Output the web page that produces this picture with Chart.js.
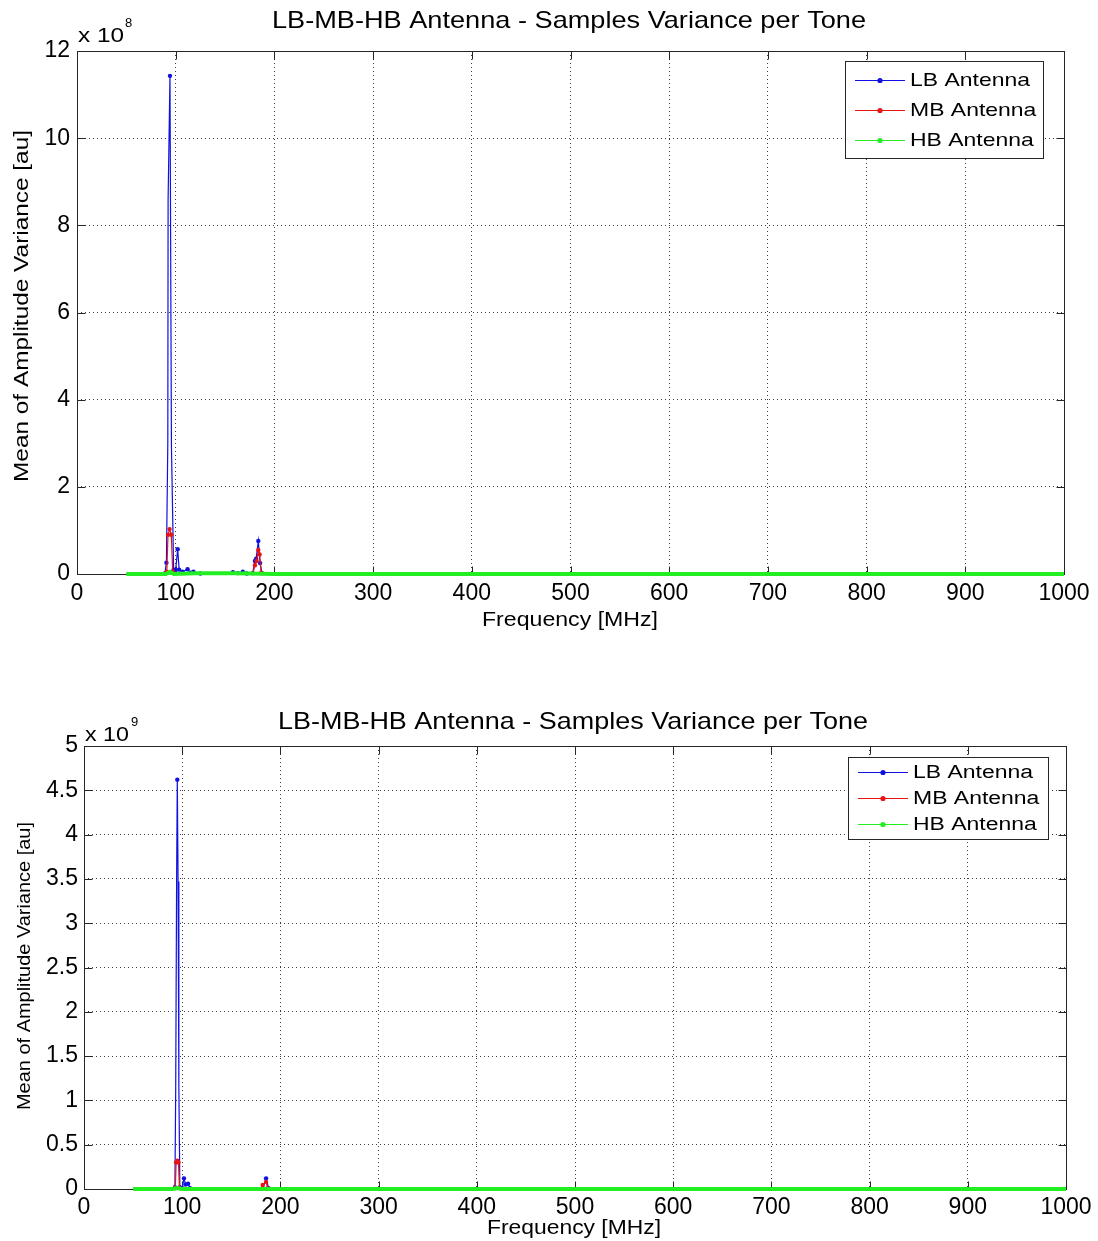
<!DOCTYPE html>
<html><head><meta charset="utf-8">
<script src="https://cdn.jsdelivr.net/npm/chart.js@4"></script>
<style>
html,body{margin:0;padding:0;background:#fff;}
#wrap{position:relative;width:1098px;height:1241px;overflow:hidden;}
canvas{position:absolute;left:0;}
</style></head><body>
<div id="wrap">
<canvas id="c1" style="top:0;width:1098px;height:650px"></canvas>
<canvas id="c2" style="top:650px;width:1098px;height:591px"></canvas>
</div>
<script>
// ---------- DATA ----------
const seriesNames = ['LB Antenna', 'MB Antenna', 'HB Antenna'];
const xTickLabels = ['0','100','200','300','400','500','600','700','800','900','1000'];

// Top chart (values in units of 1e8)
const topTitle = 'LB-MB-HB Antenna - Samples Variance per Tone';
const topYTickLabels = ['0','2','4','6','8','10','12'];
const topLbFreq = [50, 80, 89, 90.6, 92.0, 92.3, 94.2, 95.7, 97.9, 100, 102, 103.5, 107, 112, 115, 118, 125, 158, 163, 168, 172, 178, 180.3, 181.5, 183.7, 185.5, 187.5, 200, 1000];
const topLbVal  = [0, 0, 0.01, 0.26, 3.0, 8.6, 11.43, 2.9, 0.1, 0.1, 0.57, 0.1, 0.05, 0.11, 0.03, 0.05, 0.01, 0.04, 0.02, 0.05, 0.01, 0.02, 0.3, 0.35, 0.76, 0.25, 0.02, 0, 0];
const topMbFreq = [50, 89, 91.0, 92.2, 93.8, 95.5, 97.0, 100, 178, 180.3, 182.0, 183.7, 185.0, 186.5, 200, 1000];
const topMbVal  = [0, 0, 0.05, 0.9, 1.03, 0.9, 0.05, 0, 0, 0.2, 0.3, 0.55, 0.45, 0.03, 0, 0];
const topHbFreq = [50, 90, 94, 98, 120, 160, 200, 300, 400, 500, 600, 700, 800, 900, 1000];
const topHbVal  = [0, 0, 0.05, 0, 0.02, 0.02, 0, 0, 0, 0, 0, 0, 0, 0, 0];

// Bottom chart (values in units of 1e9)
const botTitle = 'LB-MB-HB Antenna - Samples Variance per Tone';
const botYTickLabels = ['0','0.5','1','1.5','2','2.5','3','3.5','4','4.5','5'];
const botLbFreq = [50, 90, 92.6, 93.4, 94.3, 95.0, 95.8, 96.6, 97.6, 100, 101.8, 103.5, 106, 108, 150, 182, 185.4, 188, 200, 1000];
const botLbVal  = [0, 0, 0.02, 1.15, 3.47, 4.62, 3.47, 1.15, 0.02, 0.01, 0.12, 0.05, 0.06, 0.01, 0, 0.01, 0.12, 0.01, 0, 0];
const botMbFreq = [50, 90, 93.0, 93.8, 95.0, 96.2, 97.2, 100, 180, 182, 185.4, 187, 200, 1000];
const botMbVal  = [0, 0, 0.01, 0.3, 0.32, 0.3, 0.01, 0, 0, 0.045, 0.08, 0.01, 0, 0];
const botHbFreq = [50, 90, 95, 100, 150, 200, 300, 400, 500, 600, 700, 800, 900, 1000];
const botHbVal  = [0, 0, 0.01, 0, 0, 0, 0, 0, 0, 0, 0, 0, 0, 0];

// ---------- STYLE / RENDER ----------
const FONT = '"Liberation Sans", Arial, Helvetica, sans-serif';
const COLORS = ['#1010e0', '#e81414', '#22ee22'];
const pts = (f, v) => f.map((x, i) => ({x: x, y: v[i]}));

function txt(ctx, text, x, y, px, targetW, align, rot) {
  ctx.save();
  ctx.font = px + 'px ' + FONT;
  const w = ctx.measureText(text).width;
  const s = targetW ? targetW / w : 1;
  ctx.translate(x, y);
  if (rot) ctx.rotate(rot);
  ctx.scale(s, 1);
  ctx.textAlign = align || 'center';
  ctx.textBaseline = 'middle';
  ctx.fillStyle = '#000';
  ctx.fillText(text, 0, 0);
  ctx.restore();
  return s;
}

const decor = {
  id: 'decor',
  beforeDatasetsDraw(chart, args, o) {
    const {ctx, chartArea: a} = chart;
    const xs = chart.scales.x, ys = chart.scales.y;
    ctx.save();
    ctx.strokeStyle = '#262626';
    ctx.lineWidth = 1;
    const L = Math.round(a.left) + 0.5, R = Math.round(a.right) + 0.5;
    const T = Math.round(a.top) + 0.5, B = Math.round(a.bottom) + 0.5;
    ctx.strokeRect(L, T, R - L, B - T);
    ctx.beginPath();
    xs.ticks.forEach(t => {
      const p = Math.round(xs.getPixelForValue(t.value)) + 0.5;
      ctx.moveTo(p, B); ctx.lineTo(p, B - 8);
      ctx.moveTo(p, T); ctx.lineTo(p, T + 8);
    });
    ys.ticks.forEach(t => {
      const p = Math.round(ys.getPixelForValue(t.value)) + 0.5;
      ctx.moveTo(L, p); ctx.lineTo(L + 8, p);
      ctx.moveTo(R, p); ctx.lineTo(R - 8, p);
    });
    ctx.stroke();
    ctx.restore();
  },
  afterDraw(chart, args, o) {
    const ctx = chart.ctx;
    txt(ctx, o.title, o.titleX, o.titleY, 24, o.titleW, 'center');
    txt(ctx, 'x 10', o.expX, o.expY, 21, o.expW, 'left');
    txt(ctx, o.expPow, o.powX, o.powY, 13, 0, 'left');
    txt(ctx, 'Frequency [MHz]', o.xlX, o.xlY, o.xlFont, o.xlW, 'center');
    txt(ctx, 'Mean of Amplitude Variance [au]', o.ylX, o.ylY, o.ylFont, o.ylW, 'center', -Math.PI / 2);
    const lg = o.legend;
    ctx.save();
    ctx.fillStyle = '#fff';
    ctx.fillRect(lg.x0, lg.y0, lg.x1 - lg.x0, lg.y1 - lg.y0);
    ctx.strokeStyle = '#262626';
    ctx.lineWidth = 1;
    ctx.strokeRect(lg.x0 + 0.5, lg.y0 + 0.5, lg.x1 - lg.x0, lg.y1 - lg.y0);
    ctx.font = lg.font + 'px ' + FONT;
    const sc = lg.textW / ctx.measureText(chart.data.datasets[0].label).width;
    chart.data.datasets.forEach((d, i) => {
      const y = lg.rows[i];
      ctx.strokeStyle = COLORS[i];
      ctx.lineWidth = 1.2;
      ctx.beginPath();
      ctx.moveTo(lg.lx0, y + 0.5); ctx.lineTo(lg.lx1, y + 0.5);
      ctx.stroke();
      ctx.fillStyle = COLORS[i];
      ctx.beginPath();
      ctx.arc((lg.lx0 + lg.lx1) / 2, y + 0.5, 2.6, 0, Math.PI * 2);
      ctx.fill();
      ctx.save();
      ctx.translate(lg.tx, y + 1);
      ctx.scale(sc, 1);
      ctx.fillStyle = '#000';
      ctx.textAlign = 'left';
      ctx.textBaseline = 'middle';
      ctx.fillText(d.label, 0, 0);
      ctx.restore();
    });
    ctx.restore();
  }
};

// marker visibility: hide on zero baseline and on steep mid-slope points
function markerRadius(c, i, yMax) {
  if (i === 2 || !c.raw || c.raw.y === 0) return 0;
  const d = c.dataset.data, k = c.dataIndex;
  if (k > 0 && k < d.length - 1) {
    const p = d[k - 1].y, n = d[k + 1].y, v = c.raw.y;
    const mono = (p < v && v < n) || (p > v && v > n);
    if (mono && v > 0.1 * yMax) return 0;
  }
  return 2.2;
}

function makeChart(id, cw, ch, area, yMax, yStep, yLabels, series, deco, xPad, yPad) {
  const cv = document.getElementById(id);
  cv.width = cw; cv.height = ch;
  const datasets = series.map((s, i) => ({
    label: seriesNames[i],
    data: pts(s[0], s[1]),
    borderColor: COLORS[i],
    backgroundColor: COLORS[i],
    borderWidth: i === 2 ? 4 : 1.2,
    pointRadius: c => markerRadius(c, i, yMax),
    pointBorderWidth: 0,
    pointHoverRadius: 0,
    tension: 0,
    clip: false,
    order: 2 - i
  }));
  return new Chart(cv, {
    type: 'line',
    data: {datasets},
    plugins: [decor],
    options: {
      responsive: false,
      animation: false,
      devicePixelRatio: 1,
      events: [],
      layout: {padding: {top: area.top, right: cw - area.right, bottom: 0, left: 0}},
      plugins: {legend: {display: false}, tooltip: {enabled: false}, title: {display: false}, decor: deco},
      scales: {
        x: {
          type: 'linear', min: 0, max: 1000,
          ticks: {stepSize: 100, autoSkip: false, maxRotation: 0, padding: xPad, color: '#000',
                  font: {family: FONT, size: 23}, callback: (v, i) => xTickLabels[i]},
          grid: {drawTicks: false, color: '#3a3a3a', lineWidth: 1},
          border: {display: false, dash: [1, 3]},
          afterFit: s => { s.height = ch - area.bottom; }
        },
        y: {
          type: 'linear', min: 0, max: yMax,
          ticks: {stepSize: yStep, autoSkip: false, padding: yPad, color: '#000',
                  font: {family: FONT, size: 23}, callback: (v, i) => yLabels[i]},
          grid: {drawTicks: false, color: '#3a3a3a', lineWidth: 1},
          border: {display: false, dash: [1, 3]},
          afterFit: s => { s.width = area.left; }
        }
      }
    }
  });
}

makeChart('c1', 1098, 650, {left: 77, top: 51, right: 1064, bottom: 574}, 12, 2, topYTickLabels,
  [[topLbFreq, topLbVal], [topMbFreq, topMbVal], [topHbFreq, topHbVal]],
  {title: topTitle, titleX: 569, titleY: 21, titleW: 594,
   expX: 78, expY: 36, expW: 46, expPow: '8', powX: 125, powY: 23,
   xlX: 570, xlY: 620, xlFont: 21, xlW: 176,
   ylX: 22, ylY: 306, ylFont: 21, ylW: 352,
   legend: {x0: 845, y0: 61, x1: 1043, y1: 158, rows: [80, 110, 140], lx0: 855, lx1: 905, tx: 910, font: 19, textW: 120}},
  6, 7);

makeChart('c2', 1098, 591, {left: 84, top: 96, right: 1066, bottom: 539}, 5, 0.5, botYTickLabels,
  [[botLbFreq, botLbVal], [botMbFreq, botMbVal], [botHbFreq, botHbVal]],
  {title: botTitle, titleX: 573, titleY: 72, titleW: 590,
   expX: 85, expY: 85, expW: 44, expPow: '9', powX: 131, powY: 72,
   xlX: 574, xlY: 578, xlFont: 20, xlW: 174,
   ylX: 25, ylY: 316, ylFont: 18, ylW: 288,
   legend: {x0: 848, y0: 107, x1: 1048, y1: 189, rows: [122, 148, 174], lx0: 858, lx1: 908, tx: 913, font: 18, textW: 120}},
  5, 6);
</script>
</body></html>
